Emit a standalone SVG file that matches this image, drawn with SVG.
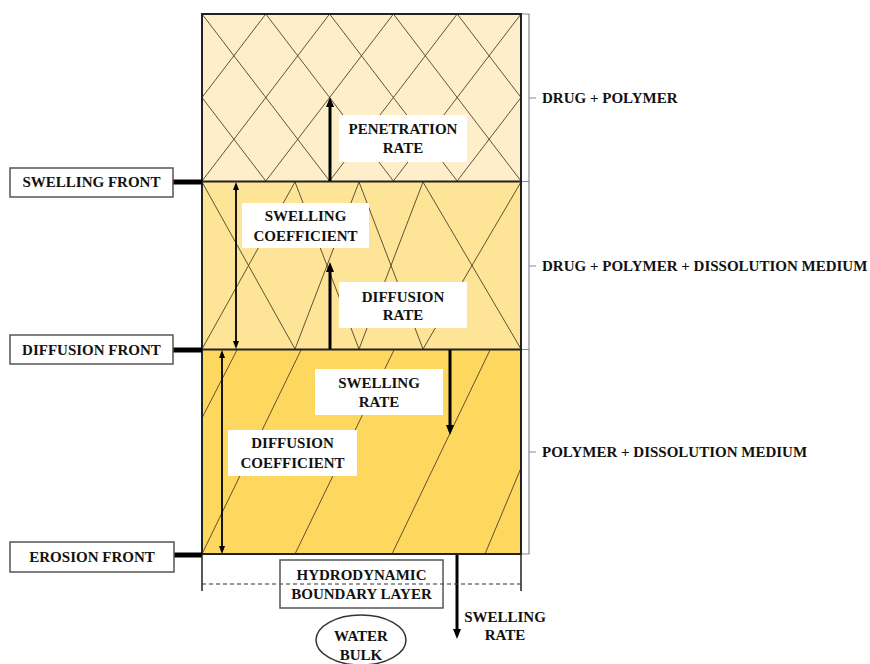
<svg xmlns="http://www.w3.org/2000/svg" width="870" height="664" viewBox="0 0 870 664" font-family="'Liberation Serif', 'Times New Roman', Times, 'DejaVu Serif', serif">
<style>
text{font-family:'Liberation Serif','Times New Roman',Times,'DejaVu Serif',serif;font-weight:bold;font-size:15px;fill:#111}
.c{text-anchor:middle}
.pat{stroke:#4f4128;stroke-width:0.9;fill:none}
.lbl{fill:#fff;stroke:none}
.box{fill:#fff;stroke:#555;stroke-width:1.5}
.front{stroke:#000;stroke-width:5;fill:none}
.thick{stroke:#000;stroke-width:3;fill:none}
.thin{stroke:#000;stroke-width:1.8;fill:none}
.brk{stroke:#888;stroke-width:1.2;fill:none}
</style>
<defs>
<clipPath id="c1"><rect x="202" y="14" width="319" height="167.5"/></clipPath>
<clipPath id="c2"><rect x="202" y="181.5" width="319" height="168"/></clipPath>
<clipPath id="c3"><rect x="202" y="349.5" width="319" height="204.5"/></clipPath>
<marker id="ah" viewBox="0 0 10 8" refX="2" refY="4" markerWidth="10" markerHeight="8" markerUnits="userSpaceOnUse" orient="auto-start-reverse"><path d="M0,0 L10,4 L0,8 z" fill="#000"/></marker>
<marker id="ahs" viewBox="0 0 8 6" refX="2" refY="3" markerWidth="8" markerHeight="6" markerUnits="userSpaceOnUse" orient="auto-start-reverse"><path d="M0,0 L8,3 L0,6 z" fill="#000"/></marker>
</defs>

<g id="layer-drug-polymer">
<rect x="202" y="14" width="319" height="167.5" fill="#FEEFCA"/>
<g class="pat" clip-path="url(#c1)">
<path d="M74.4,14 L202,181 M138.2,14 L265.8,181 M202,14 L329.6,181 M265.8,14 L393.4,181 M329.6,14 L457.2,181 M393.4,14 L521,181 M457.2,14 L584.8,181 M521,14 L648.6,181"/>
<path d="M202,14 L74.4,181 M265.8,14 L138.2,181 M329.6,14 L202,181 M393.4,14 L265.8,181 M457.2,14 L329.6,181 M521,14 L393.4,181 M584.8,14 L457.2,181 M648.6,14 L521,181"/>
</g>
</g>

<g id="layer-drug-polymer-medium">
<rect x="202" y="181.5" width="319" height="168" fill="#FDE497"/>
<g class="pat" clip-path="url(#c2)">
<path d="M202,182 L295,349 M295,182 L202,349 M295,182 L359,349 M359,182 L295,349 M359,182 L423,349 M423,182 L359,349 M423,182 L521,349 M521,182 L423,349"/>
</g>
</g>

<g id="layer-polymer-medium">
<rect x="202" y="349.5" width="319" height="204.5" fill="#FED75E"/>
<g class="pat" clip-path="url(#c3)">
<path d="M237,350 L202,418 M301,350 L202,554 M394,350 L295,554 M490,350 L392,554 M521,468 L485,554"/>
</g>
</g>

<g id="matrix-outline" fill="none" stroke="#222" stroke-width="2">
<rect x="202" y="14" width="319" height="540"/>
<line x1="202" y1="181.5" x2="521" y2="181.5"/>
<line x1="202" y1="349.5" x2="521" y2="349.5"/>
</g>

<g id="connectors">
<line class="front" x1="173" y1="182" x2="202" y2="182"/>
<line class="front" x1="173" y1="350" x2="202" y2="350"/>
<line class="front" x1="174" y1="555" x2="202" y2="555"/>
<line class="thick" x1="330" y1="181" x2="330" y2="105" marker-end="url(#ah)"/>
<line class="thick" x1="330" y1="349" x2="330" y2="270" marker-end="url(#ah)"/>
<line class="thick" x1="450" y1="350" x2="450" y2="427" marker-end="url(#ah)"/>
<line class="thick" x1="457" y1="555" x2="457" y2="631" marker-end="url(#ah)"/>
<line class="thin" x1="236" y1="188" x2="236" y2="343" marker-start="url(#ahs)" marker-end="url(#ahs)"/>
<line class="thin" x1="222" y1="356" x2="222" y2="548" marker-start="url(#ahs)" marker-end="url(#ahs)"/>
<path class="brk" d="M522,14 H529 V554 H522 M522,181.5 H529 M522,349.5 H529 M529,98 H536 M529,266 H536 M529,452 H536"/>
<path stroke="#222" stroke-width="1.5" fill="none" d="M202,554 V591 M521,554 V591"/>
<line x1="202" y1="584" x2="521" y2="584" stroke="#333" stroke-width="1.2" stroke-dasharray="4,3"/>
</g>

<g id="label-penetration-rate"><rect class="lbl" x="339" y="115" width="128" height="47"/><text class="c" x="403" y="134">PENETRATION</text><text class="c" x="403" y="153">RATE</text></g>
<g id="label-swelling-coefficient"><rect class="lbl" x="242" y="203" width="127" height="45"/><text class="c" x="305.5" y="221">SWELLING</text><text class="c" x="305.5" y="241">COEFFICIENT</text></g>
<g id="label-diffusion-rate"><rect class="lbl" x="339" y="282" width="128" height="46"/><text class="c" x="403" y="302">DIFFUSION</text><text class="c" x="403" y="320">RATE</text></g>
<g id="label-swelling-rate"><rect class="lbl" x="315" y="369" width="128" height="46"/><text class="c" x="379" y="388">SWELLING</text><text class="c" x="379" y="407">RATE</text></g>
<g id="label-diffusion-coefficient"><rect class="lbl" x="228" y="430" width="129" height="46"/><text class="c" x="292.5" y="448">DIFFUSION</text><text class="c" x="292.5" y="468">COEFFICIENT</text></g>

<g id="swelling-front"><rect class="box" x="10" y="168" width="163" height="29"/><text class="c" x="91.5" y="187">SWELLING FRONT</text></g>
<g id="diffusion-front"><rect class="box" x="10" y="335" width="163" height="29"/><text class="c" x="91.5" y="354.5">DIFFUSION FRONT</text></g>
<g id="erosion-front"><rect class="box" x="10" y="542" width="164" height="30"/><text class="c" x="92" y="562">EROSION FRONT</text></g>

<g id="label-drug-polymer"><text x="542" y="103">DRUG + POLYMER</text></g>
<g id="label-drug-polymer-medium"><text x="542" y="271">DRUG + POLYMER + DISSOLUTION MEDIUM</text></g>
<g id="label-polymer-medium"><text x="542" y="457">POLYMER + DISSOLUTION MEDIUM</text></g>

<g id="boundary-layer"><rect x="280" y="560" width="163" height="48" fill="none" stroke="#555" stroke-width="1.5"/><text class="c" x="361.5" y="580">HYDRODYNAMIC</text><text class="c" x="361.5" y="599">BOUNDARY LAYER</text></g>
<g id="water-bulk"><ellipse cx="361" cy="640" rx="45" ry="25" fill="#fff" stroke="#333" stroke-width="1.5"/><text class="c" x="361" y="641">WATER</text><text class="c" x="361" y="660">BULK</text></g>
<g id="label-swelling-rate-out"><text class="c" x="505" y="622">SWELLING</text><text class="c" x="505" y="640">RATE</text></g>
</svg>
